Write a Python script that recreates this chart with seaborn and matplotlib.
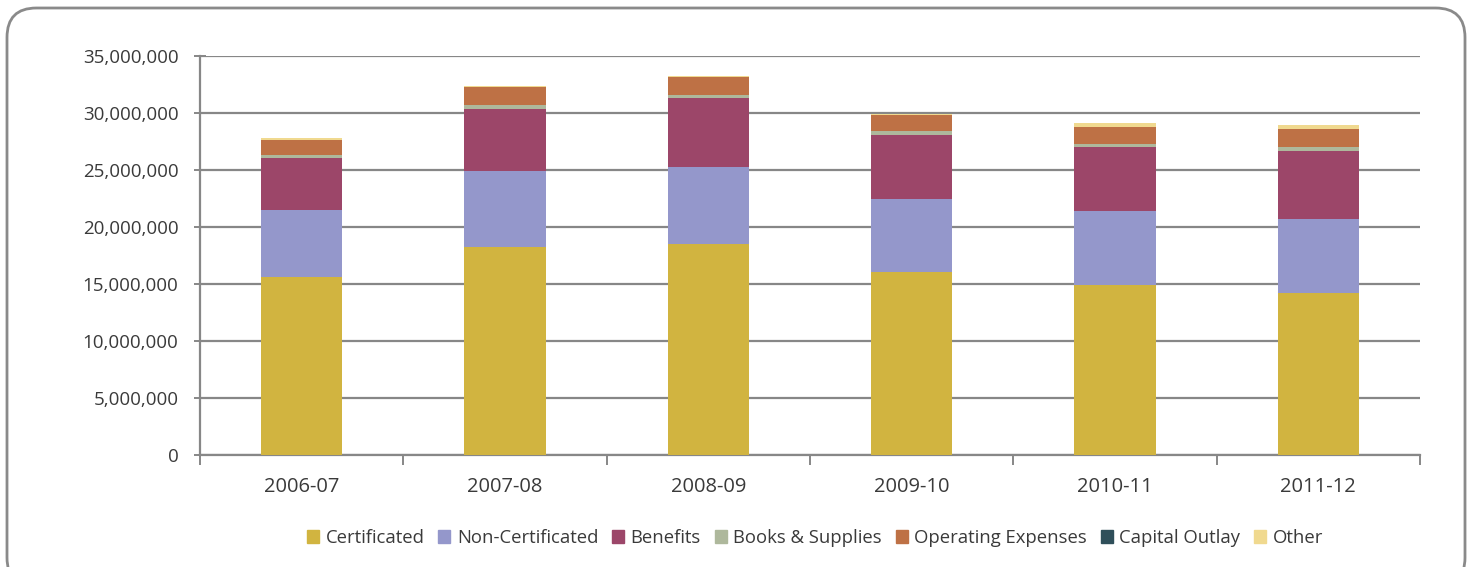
import matplotlib
matplotlib.use("Agg")
import matplotlib.pyplot as plt
import seaborn as sns
import numpy as np
import pandas as pd
from matplotlib.patches import FancyBboxPatch
from matplotlib.ticker import FuncFormatter, MultipleLocator, FixedLocator

years = ["2006-07", "2007-08", "2008-09", "2009-10", "2010-11", "2011-12"]
certificated = [15.6, 18.25, 18.5, 16.05, 14.9, 14.2]
non_certificated = [5.9, 6.65, 6.76, 6.4, 6.5, 6.5]
benefits = [4.58, 5.45, 6.05, 5.64, 5.6, 6.0]
books_supplies = [0.23, 0.35, 0.27, 0.3, 0.28, 0.3]
operating = [1.36, 1.6, 1.55, 1.4, 1.45, 1.6]
capital = [0.005, 0.005, 0.005, 0.005, 0.05, 0.01]
other = [0.09, 0.1, 0.13, 0.16, 0.31, 0.36]

series_names = ["Certificated", "Non-Certificated", "Benefits", "Books & Supplies",
                "Operating Expenses", "Capital Outlay", "Other"]
series_vals = [certificated, non_certificated, benefits, books_supplies,
               operating, capital, other]
colors = ["#D1B440", "#9497CB", "#9C4669", "#AEB89C", "#BE7145", "#2F4F5A", "#F0D98F"]

sns.set_theme(style="white")
plt.rcParams['font.family'] = ['Open Sans', 'DejaVu Sans']

fig = plt.figure(figsize=(14.72, 5.67), dpi=100)
ax = fig.add_axes([200/1472, 1-455/567, 1220/1472, 399/567])

vals = np.array(series_vals) * 1e6
cum = np.cumsum(vals, axis=0)

for i in range(len(series_names) - 1, -1, -1):
    df = pd.DataFrame({"year": years, "value": cum[i]})
    sns.barplot(data=df, x="year", y="value", color=colors[i], width=0.4,
                saturation=1, ax=ax, zorder=3, edgecolor="none")

ax.set_ylim(0, 35e6)
ax.set_xlim(-0.5, 5.5)
ax.yaxis.set_major_locator(MultipleLocator(5e6))
ax.yaxis.set_major_formatter(FuncFormatter(lambda v, p: f"{int(v):,}"))
ax.grid(axis="y", color="#878787", linewidth=1.6, zorder=0)
ax.set_axisbelow(True)
ax.set_xlabel("")
ax.set_ylabel("")
for s in ["top", "right"]:
    ax.spines[s].set_visible(False)
for s in ["left", "bottom"]:
    ax.spines[s].set_color("#878787")
    ax.spines[s].set_linewidth(1.6)

ax.tick_params(axis="y", which="major", left=True, length=9, width=1.4,
               direction="inout", color="#878787", labelsize=13.5,
               labelcolor="#3a3a3a", pad=11)
ax.tick_params(axis="x", which="major", bottom=False, labelsize=14.5,
               labelcolor="#3a3a3a", pad=10)
ax.xaxis.set_minor_locator(FixedLocator(np.arange(-0.5, 6.0, 1.0)))
ax.tick_params(axis="x", which="minor", bottom=True, length=7, width=1.4,
               color="#878787")

handles = [plt.Rectangle((0, 0), 1, 1, color=c) for c in colors]
fig.legend(handles, series_names, loc="center", bbox_to_anchor=(815/1472, 1-538/567),
           ncol=7, frameon=False, fontsize=13.3, handlelength=0.65, handleheight=0.65,
           handletextpad=0.35, columnspacing=0.75, labelcolor="#3a3a3a")

border = FancyBboxPatch((7/1472, -20/567), 1458/1472, (567-8+20)/567,
                        boxstyle="round,pad=0,rounding_size=0.02",
                        transform=fig.transFigure, facecolor="none",
                        edgecolor="#8a8a8a", linewidth=2, mutation_aspect=1472/567)
fig.patches.append(border)

fig.savefig("out.png", dpi=100)
